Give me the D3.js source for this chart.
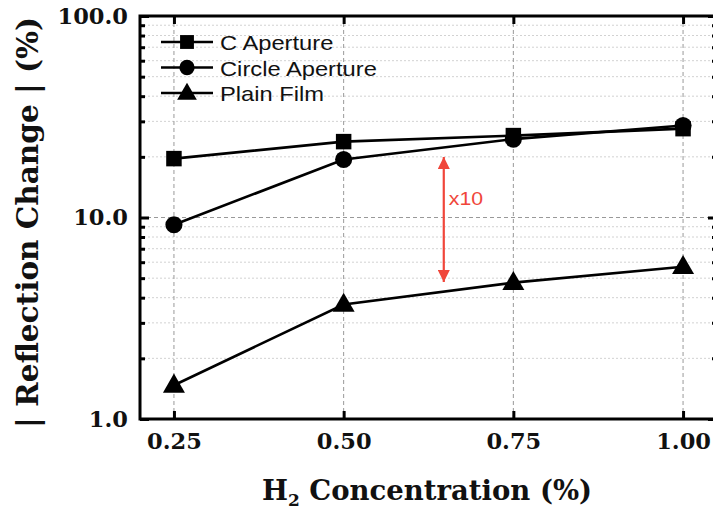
<!DOCTYPE html>
<html><head><meta charset="utf-8">
<script src="https://cdn.jsdelivr.net/npm/d3@7"></script>
<style>body{margin:0;background:#fff;}svg{display:block;}</style>
</head><body>
<script>
const concentrations = [0.25, 0.50, 0.75, 1.00];
const cAperture = [19.6, 23.8, 25.5, 27.6];
const circleAperture = [9.2, 19.4, 24.5, 28.6];
const plainFilm = [1.47, 3.7, 4.75, 5.7];
const seriesNames = ["C Aperture", "Circle Aperture", "Plain Film"];
const seriesSymbols = ["square", "circle", "triangle"];
const xTickLabels = ["0.25", "0.50", "0.75", "1.00"];
const yTickValues = [1, 10, 100];
const yTickLabels = ["1.0", "10.0", "100.0"];
const annotationText = "x10";

const W = 713, H = 511;
const svg = d3.select("body").append("svg").attr("width", W).attr("height", H);
const m = {l: 140, t: 16, r: -4, b: 92};
const x = d3.scaleLinear().domain([0.2, 1.05]).range([m.l, W - m.r]);
const y = d3.scaleLog().domain([1, 100]).range([H - m.b, m.t]);
const serif = "'DejaVu Serif', serif";
const sans = "'Liberation Sans', Arial, sans-serif";

// grid
const minors = [];
for (let d = 1; d < 100; d *= 10) for (let k = 2; k <= 9; k++) minors.push(d * k);
const g = svg.append("g");
g.selectAll(".mn").data(minors).enter().append("line")
  .attr("x1", m.l).attr("x2", W).attr("y1", d => y(d)).attr("y2", d => y(d))
  .attr("stroke", "#d2d2d2").attr("stroke-width", 1).attr("stroke-dasharray", "2,2");
g.selectAll(".mj").data([10]).enter().append("line")
  .attr("x1", m.l).attr("x2", W).attr("y1", d => y(d)).attr("y2", d => y(d))
  .attr("stroke", "#999").attr("stroke-width", 1).attr("stroke-dasharray", "4,3");
g.selectAll(".vx").data(concentrations).enter().append("line")
  .attr("x1", d => x(d)).attr("x2", d => x(d)).attr("y1", y(1)).attr("y2", y(100))
  .attr("stroke", "#999").attr("stroke-width", 1).attr("stroke-dasharray", "4,3");

// axes
const xAxis = d3.axisBottom(x).tickValues(concentrations).tickFormat((d, i) => xTickLabels[i]).tickSize(-8).tickPadding(14);
const gx = svg.append("g").attr("transform", `translate(0,${y(1)})`).call(xAxis);
gx.select(".domain").remove();
gx.selectAll(".tick line").attr("stroke", "#000").attr("stroke-width", 3);
gx.selectAll("text").attr("font-family", serif).attr("font-weight", "bold").attr("font-size", 22.5).attr("fill", "#111");

const xTop = d3.axisTop(x).tickValues(concentrations).tickFormat("").tickSize(-8);
const gxt = svg.append("g").attr("transform", `translate(0,${y(100)})`).call(xTop);
gxt.select(".domain").remove();
gxt.selectAll(".tick line").attr("stroke", "#000").attr("stroke-width", 3);

const yAxis = d3.axisLeft(y).tickValues(yTickValues).tickFormat((d, i) => yTickLabels[i]).tickSize(-9).tickPadding(12);
const gy = svg.append("g").attr("transform", `translate(${m.l},0)`).call(yAxis);
gy.select(".domain").remove();
gy.selectAll(".tick line").attr("stroke", "#000").attr("stroke-width", 3);
gy.selectAll("text").attr("font-family", serif).attr("font-weight", "bold").attr("font-size", 22.5).attr("fill", "#111");
const yMinor = d3.axisLeft(y).tickValues(minors).tickFormat("").tickSize(-5);
const gym = svg.append("g").attr("transform", `translate(${m.l},0)`).call(yMinor);
gym.select(".domain").remove();
gym.selectAll(".tick line").attr("stroke", "#000").attr("stroke-width", 3);
const yRight = d3.axisRight(y).tickValues(minors).tickFormat("").tickSize(-5);
const gyr = svg.append("g").attr("transform", `translate(${x(1.05)},0)`).call(yRight);
gyr.select(".domain").remove();
gyr.selectAll(".tick line").attr("stroke", "#000").attr("stroke-width", 3);
const yRightMaj = d3.axisRight(y).tickValues(yTickValues).tickFormat("").tickSize(-9);
const gyr2 = svg.append("g").attr("transform", `translate(${x(1.05)},0)`).call(yRightMaj);
gyr2.select(".domain").remove();
gyr2.selectAll(".tick line").attr("stroke", "#000").attr("stroke-width", 3);

// frame
svg.append("rect").attr("x", m.l).attr("y", y(100)).attr("width", x(1.05) - m.l).attr("height", y(1) - y(100))
  .attr("fill", "none").attr("stroke", "#000").attr("stroke-width", 3);

// series
const allSeries = [cAperture, circleAperture, plainFilm];
const symSize = {square: 240, circle: 230, triangle: 210};
const symType = {square: d3.symbolSquare, circle: d3.symbolCircle, triangle: d3.symbolTriangle};
const line = d3.line().x((d, i) => x(concentrations[i])).y(d => y(d));
allSeries.forEach((vals, si) => {
  svg.append("path").attr("d", line(vals)).attr("fill", "none").attr("stroke", "#000").attr("stroke-width", 2.6);
  const s = seriesSymbols[si];
  svg.selectAll(null).data(vals).enter().append("path")
    .attr("transform", (d, i) => `translate(${x(concentrations[i])},${y(d) + (s === "triangle" ? 1 : 0)})`)
    .attr("d", d3.symbol().type(symType[s]).size(symSize[s])).attr("fill", "#000");
});

// legend
const lg = svg.append("g");
seriesNames.forEach((n, i) => {
  const yy = 42 + i * 25.5;
  lg.append("line").attr("x1", 161).attr("x2", 213).attr("y1", yy).attr("y2", yy).attr("stroke", "#000").attr("stroke-width", 2.6);
  const s = seriesSymbols[i];
  lg.append("path").attr("transform", `translate(187,${yy + (s === "triangle" ? 1 : 0)})`)
    .attr("d", d3.symbol().type(symType[s]).size(symSize[s] * 0.8)).attr("fill", "#000");
  lg.append("text").attr("transform", `translate(220,${yy + 8}) scale(1.13,1)`).text(n)
    .attr("font-family", sans).attr("font-size", 21).attr("fill", "#111");
});

// annotation arrow
const red = "#f0463a";
const ax = x(0.6475);
const defs = svg.append("defs");
defs.append("marker").attr("id", "ah").attr("viewBox", "0 0 10 10").attr("refX", 10).attr("refY", 5)
  .attr("markerWidth", 6).attr("markerHeight", 5.5).attr("markerUnits", "strokeWidth").attr("orient", "auto-start-reverse")
  .append("path").attr("d", "M0,0 L10,5 L0,10 z").attr("fill", red);
svg.append("line").attr("x1", ax).attr("x2", ax).attr("y1", 157).attr("y2", 282)
  .attr("stroke", red).attr("stroke-width", 2.2).attr("marker-start", "url(#ah)").attr("marker-end", "url(#ah)");
svg.append("text").attr("transform", `translate(${ax + 5},205) scale(1.12,1)`).text(annotationText)
  .attr("font-family", sans).attr("font-size", 19).attr("fill", red);

// axis titles
svg.append("text").attr("transform", `translate(38,${(y(1) + y(100)) / 2 + 5}) rotate(-90)`)
  .attr("text-anchor", "middle").attr("font-family", serif).attr("font-weight", "bold").attr("font-size", 29.5).attr("fill", "#111")
  .text("| Reflection Change | (%)");
const xt = svg.append("text").attr("x", 427).attr("y", 500).attr("text-anchor", "middle")
  .attr("font-family", serif).attr("font-weight", "bold").attr("font-size", 27.5).attr("fill", "#111");
xt.append("tspan").text("H");
xt.append("tspan").attr("font-size", 17).attr("dy", 6).text("2");
xt.append("tspan").attr("dy", -6).text(" Concentration (%)");
</script>
</body></html>
